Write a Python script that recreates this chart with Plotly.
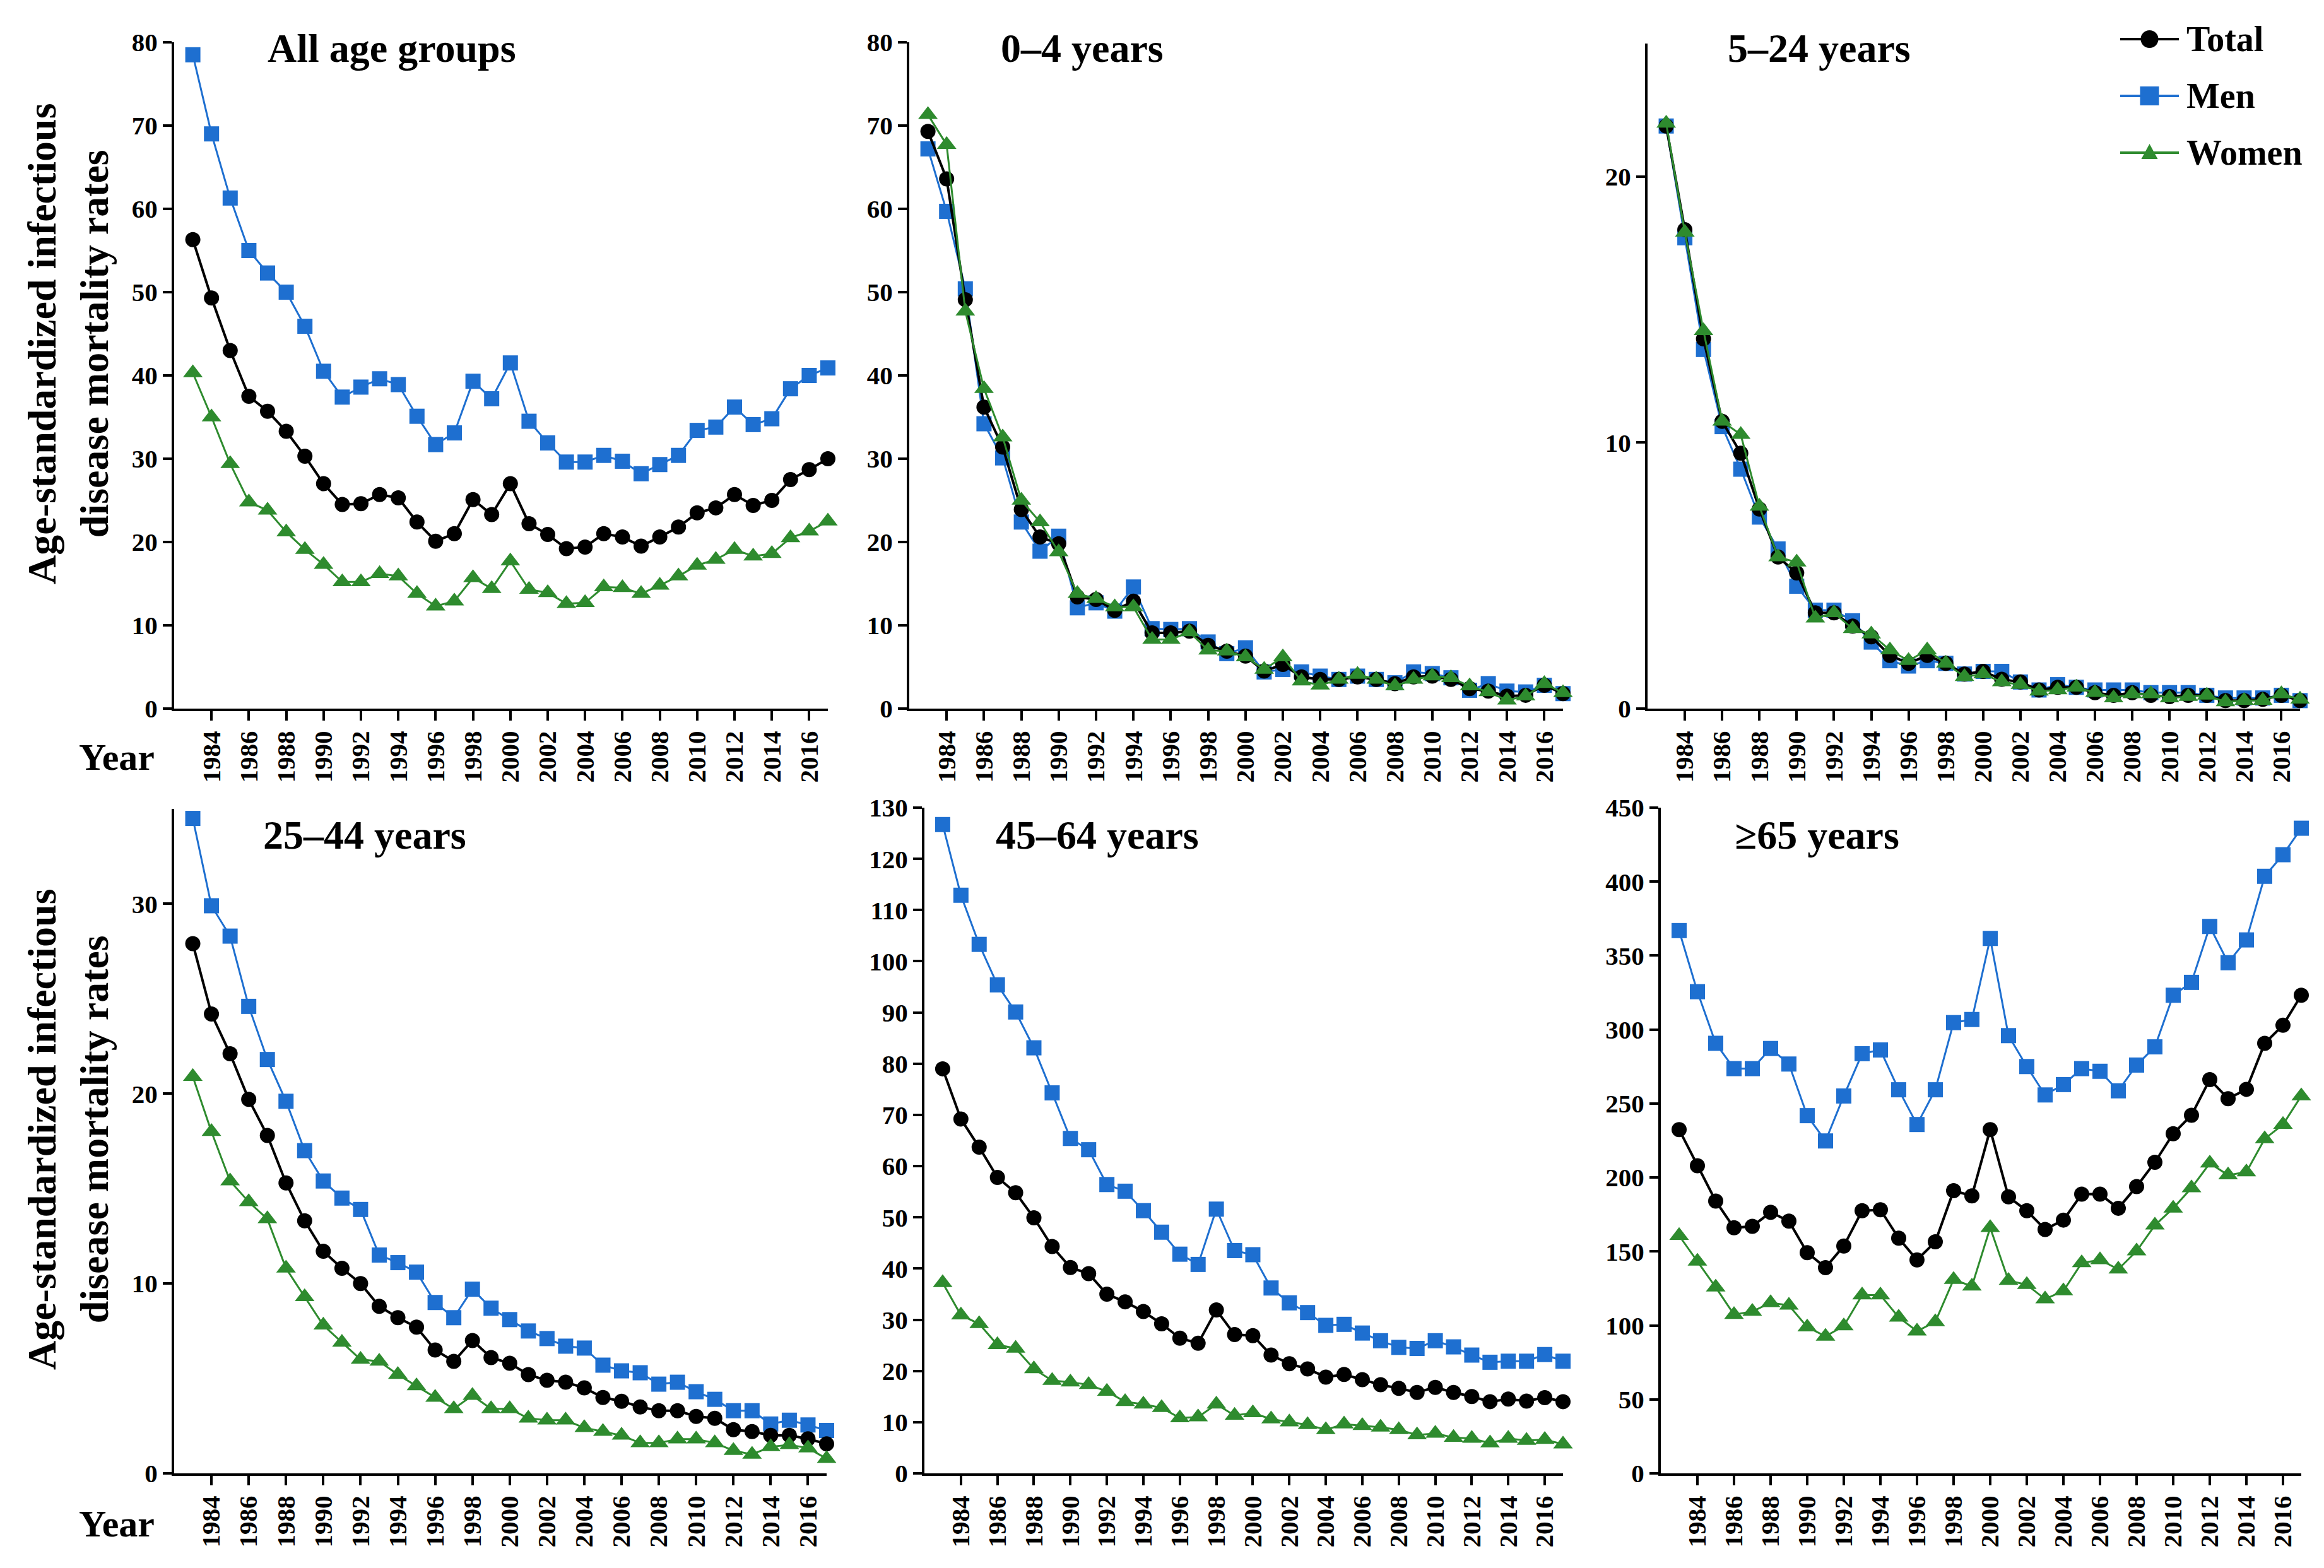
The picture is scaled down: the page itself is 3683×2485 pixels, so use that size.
import plotly.graph_objects as go

W, H = 3683, 2485

years = [1983, 1984, 1985, 1986, 1987, 1988, 1989, 1990, 1991, 1992, 1993, 1994,
         1995, 1996, 1997, 1998, 1999, 2000, 2001, 2002, 2003, 2004, 2005, 2006,
         2007, 2008, 2009, 2010, 2011, 2012, 2013, 2014, 2015, 2016, 2017]
tick_years = [1984, 1986, 1988, 1990, 1992, 1994, 1996, 1998, 2000, 2002, 2004,
              2006, 2008, 2010, 2012, 2014, 2016]

panel_titles = ["All age groups", "0–4 years", "5–24 years",
                "25–44 years", "45–64 years", "≥65 years"]
series_names = ["Total", "Men", "Women"]

# ---- All age groups
all_total = [56.3, 49.3, 43.0, 37.5, 35.7, 33.3, 30.3, 27.0, 24.5, 24.6, 25.7, 25.3, 22.4, 20.1, 21.0, 25.1, 23.3, 27.0,
             22.2, 20.9, 19.2, 19.4, 21.0, 20.6, 19.5, 20.6, 21.8, 23.5, 24.1, 25.7, 24.4, 25.0, 27.5, 28.7, 30.0]
all_men = [78.5, 69.0, 61.3, 55.0, 52.3, 50.0, 45.9, 40.5, 37.4, 38.6, 39.6, 38.9, 35.1, 31.7, 33.1, 39.3, 37.2, 41.5,
           34.5, 31.9, 29.6, 29.6, 30.4, 29.7, 28.2, 29.3, 30.4, 33.4, 33.8, 36.2, 34.1, 34.8, 38.4, 40.0, 40.9]
all_women = [40.3, 35.0, 29.4, 24.8, 23.8, 21.2, 19.1, 17.3, 15.2, 15.2, 16.2, 15.9, 13.8, 12.3, 12.9, 15.7, 14.4, 17.7,
             14.3, 13.9, 12.6, 12.7, 14.6, 14.5, 13.8, 14.8, 15.9, 17.2, 17.9, 19.1, 18.3, 18.6, 20.5, 21.3, 22.5]

# ---- 0-4 years
a04_total = [69.3, 63.6, 49.1, 36.2, 31.4, 23.9, 20.6, 19.8, 13.4, 13.1, 11.8, 12.9, 9.1, 9.1, 9.3, 7.6, 6.9, 6.3,
             4.5, 5.3, 3.8, 3.5, 3.5, 3.8, 3.5, 3.0, 3.8, 3.9, 3.5, 2.4, 2.1, 1.5, 1.6, 2.8, 1.8]
a04_men = [67.2, 59.7, 50.4, 34.2, 30.1, 22.4, 18.9, 20.7, 12.1, 12.7, 11.7, 14.6, 9.6, 9.5, 9.6, 8.0, 6.6, 7.3,
           4.4, 4.7, 4.4, 3.9, 3.5, 3.9, 3.5, 3.1, 4.4, 4.2, 3.7, 2.2, 3.0, 2.1, 2.0, 2.8, 1.8]
a04_women = [71.3, 67.7, 47.7, 38.4, 32.6, 25.0, 22.4, 18.8, 13.8, 13.2, 12.2, 12.2, 8.3, 8.3, 9.2, 7.0, 6.9, 6.2,
             4.7, 6.2, 3.3, 2.8, 3.5, 4.1, 3.5, 2.7, 3.5, 3.9, 3.7, 2.7, 2.0, 1.0, 1.5, 3.0, 1.9]

# ---- 5-24 years
a524_total = [21.9, 18.0, 13.9, 10.8, 9.6, 7.5, 5.7, 5.1, 3.6, 3.6, 3.1, 2.7, 2.0, 1.7, 2.0, 1.7, 1.3, 1.4,
              1.1, 1.0, 0.7, 0.8, 0.8, 0.6, 0.5, 0.6, 0.5, 0.45, 0.5, 0.5, 0.3, 0.3, 0.35, 0.5, 0.3]
a524_men = [21.9, 17.7, 13.5, 10.6, 9.0, 7.2, 6.0, 4.6, 3.7, 3.7, 3.3, 2.5, 1.8, 1.6, 1.8, 1.7, 1.3, 1.4,
            1.4, 1.0, 0.7, 0.9, 0.8, 0.7, 0.7, 0.7, 0.6, 0.6, 0.6, 0.5, 0.4, 0.4, 0.4, 0.5, 0.3]
a524_women = [22.0, 17.9, 14.2, 10.8, 10.3, 7.6, 5.7, 5.5, 3.4, 3.6, 3.0, 2.8, 2.2, 1.8, 2.2, 1.7, 1.2, 1.3,
              1.0, 0.9, 0.65, 0.7, 0.8, 0.6, 0.4, 0.55, 0.55, 0.4, 0.45, 0.5, 0.25, 0.3, 0.3, 0.55, 0.35]

# ---- 25-44 years
a2544_total = [27.9, 24.2, 22.1, 19.7, 17.8, 15.3, 13.3, 11.7, 10.8, 10.0, 8.8, 8.2, 7.7, 6.5, 5.9, 7.0, 6.1, 5.8,
               5.2, 4.9, 4.8, 4.5, 4.0, 3.8, 3.5, 3.3, 3.3, 3.0, 2.9, 2.3, 2.2, 2.0, 2.0, 1.82, 1.55]
a2544_men = [34.5, 29.9, 28.3, 24.6, 21.8, 19.6, 17.0, 15.4, 14.5, 13.9, 11.5, 11.1, 10.6, 9.0, 8.2, 9.7, 8.7, 8.1,
             7.5, 7.1, 6.7, 6.6, 5.7, 5.4, 5.3, 4.7, 4.8, 4.3, 3.9, 3.3, 3.3, 2.6, 2.8, 2.55, 2.26]
a2544_women = [20.9, 18.0, 15.4, 14.3, 13.4, 10.8, 9.3, 7.8, 6.9, 6.0, 5.9, 5.2, 4.6, 4.0, 3.4, 4.1, 3.4, 3.4,
               2.9, 2.8, 2.8, 2.4, 2.2, 2.0, 1.6, 1.6, 1.8, 1.8, 1.6, 1.2, 1.0, 1.4, 1.5, 1.33, 0.77]

# ---- 45-64 years
a4564_total = [79.0, 69.2, 63.7, 57.8, 54.8, 49.9, 44.3, 40.2, 39.0, 35.0, 33.5, 31.6, 29.2, 26.4, 25.4, 31.9, 27.1, 26.9,
               23.1, 21.4, 20.4, 18.8, 19.3, 18.3, 17.3, 16.6, 15.8, 16.8, 15.8, 15.0, 14.0, 14.5, 14.1, 14.8, 14.0]
a4564_men = [126.7, 112.9, 103.3, 95.4, 90.1, 83.1, 74.3, 65.4, 63.2, 56.4, 55.1, 51.3, 47.1, 42.8, 40.8, 51.6, 43.5, 42.7,
             36.2, 33.3, 31.4, 28.9, 29.1, 27.4, 25.9, 24.6, 24.4, 25.9, 24.7, 23.1, 21.7, 21.9, 21.9, 23.2, 21.9]
a4564_women = [37.2, 30.9, 29.2, 25.1, 24.4, 20.4, 18.1, 17.8, 17.3, 16.0, 14.0, 13.5, 12.8, 10.8, 11.0, 13.5, 11.3, 11.8,
               10.6, 10.0, 9.5, 8.5, 9.6, 9.3, 9.0, 8.5, 7.5, 7.8, 7.0, 6.8, 5.9, 6.8, 6.4, 6.6, 5.7]

# ---- >=65 years
a65_total = [232.4, 207.9, 184.1, 166.0, 167.0, 176.5, 170.5, 149.2, 139.1, 153.7, 177.5, 178.2, 159.0, 144.3, 156.5,
             191.1, 187.6, 232.4, 186.9, 177.5, 164.9, 171.2, 188.7, 188.7, 179.2, 193.9, 210.3, 229.6, 242.1, 266.2,
             253.3, 259.6, 290.7, 302.9, 323.2]
a65_men = [366.9, 325.6, 290.7, 273.6, 273.6, 287.2, 276.7, 241.8, 224.7, 255.1, 283.7, 286.2, 259.3, 235.8, 259.3,
           304.7, 306.8, 361.6, 295.9, 275.0, 255.8, 262.8, 273.6, 271.8, 258.6, 276.0, 288.3, 323.2, 331.9, 369.7,
           345.2, 360.6, 403.6, 418.2, 436.1]
a65_women = [160.7, 143.3, 125.8, 107.3, 109.4, 115.3, 113.6, 98.9, 92.6, 99.6, 120.5, 120.5, 105.5, 96.1, 102.4,
             131.0, 126.5, 166.0, 130.3, 127.5, 117.8, 123.3, 142.2, 144.3, 138.0, 150.2, 167.7, 179.2, 192.9, 209.6,
             201.6, 203.7, 226.1, 235.8, 255.1]

y_max = [80, 80, 25, 35, 130, 450]
y_dtick = [10, 10, 10, 10, 10, 50]

data_sets = [
    (all_total, all_men, all_women),
    (a04_total, a04_men, a04_women),
    (a524_total, a524_men, a524_women),
    (a2544_total, a2544_men, a2544_women),
    (a4564_total, a4564_men, a4564_women),
    (a65_total, a65_men, a65_women),
]

# ---- layout geometry (pixels)
x_dom_px = [(276, 1312), (1441, 2477), (2611, 3645), (276, 1310), (1465, 2477), (2632, 3647)]
y_dom_px = [(67, 1123), (67, 1123), (69, 1123), (1282, 2335), (1280, 2335), (1280, 2335)]
title_pos_px = [(422, 77), (1584, 77), (2736, 77), (415, 1323), (1576, 1323), (2747, 1323)]

BLACK = "#000000"
BLUE = "#1E6FD0"
GREEN = "#2E8B2E"
FONT = "Liberation Serif"


def px_x(x):
    return x / W


def px_y(y):
    return 1 - y / H


fig = go.Figure()
layout = dict(
    width=W, height=H,
    margin=dict(l=0, r=0, t=0, b=0, pad=0, autoexpand=False),
    paper_bgcolor="white", plot_bgcolor="white",
    font=dict(family=FONT, size=41, color="black", weight="bold"),
    showlegend=False,
)

annotations = []
for i in range(6):
    n = i + 1
    xa = "x" if n == 1 else f"x{n}"
    ya = "y" if n == 1 else f"y{n}"
    total, men, women = data_sets[i]
    specs = [
        ("Men", men, BLUE, "square", 24, 3),
        ("Total", total, BLACK, "circle", 24, 4),
        ("Women", women, GREEN, "triangle-up", 27, 3),
    ]
    for name, vals, col, sym, sz, lw in specs:
        fig.add_trace(go.Scatter(
            x=years, y=vals, name=name, mode="lines+markers",
            line=dict(color=col, width=lw),
            marker=dict(symbol=sym, size=sz, color=col, line=dict(width=0)),
            xaxis=xa, yaxis=ya, cliponaxis=False, showlegend=False,
        ))
    xk = "xaxis" if n == 1 else f"xaxis{n}"
    yk = "yaxis" if n == 1 else f"yaxis{n}"
    x0, x1 = x_dom_px[i]
    yt, yb = y_dom_px[i]
    layout[xk] = dict(
        domain=[px_x(x0), px_x(x1)], anchor=ya, range=[1982, 2017],
        tickmode="array", tickvals=tick_years, ticktext=[str(t) for t in tick_years],
        tickangle=-90, ticks="outside", ticklen=15, tickwidth=4, tickcolor="black",
        showline=True, linecolor="black", linewidth=4, showgrid=False, zeroline=False,
        tickfont=dict(family=FONT, size=41, color="black", weight="bold"),
        fixedrange=True, automargin=False,
    )
    layout[yk] = dict(
        domain=[px_y(yb), px_y(yt)], anchor=xa, range=[0, y_max[i]], dtick=y_dtick[i],
        tick0=0, ticks="outside", ticklen=14, tickwidth=4, tickcolor="black",
        showline=True, linecolor="black", linewidth=4, showgrid=False, zeroline=False,
        tickfont=dict(family=FONT, size=41, color="black", weight="bold"),
        fixedrange=True, automargin=False,
    )
    tx, ty = title_pos_px[i]
    annotations.append(dict(
        text=panel_titles[i], xref="paper", yref="paper", x=px_x(tx), y=px_y(ty),
        xanchor="left", yanchor="middle", showarrow=False,
        font=dict(family=FONT, size=64, color="black", weight="bold"),
    ))

# y-axis titles
for cy in (545, 1790):
    annotations.append(dict(
        text="Age-standardized infectious<br>disease mortality rates",
        xref="paper", yref="paper", x=px_x(108), y=px_y(cy),
        xanchor="center", yanchor="middle", textangle=-90, showarrow=False,
        font=dict(family=FONT, size=64, color="black", weight="bold"),
    ))
# "Year" labels
for cy in (1200, 2415):
    annotations.append(dict(
        text="Year", xref="paper", yref="paper", x=px_x(185), y=px_y(cy),
        xanchor="center", yanchor="middle", showarrow=False,
        font=dict(family=FONT, size=60, color="black", weight="bold"),
    ))

# legend (drawn in panel-3 corner)
leg_x0, leg_x1, leg_tx = 3360, 3453, 3463
leg_items = [("Total", BLACK, 62), ("Men", BLUE, 152), ("Women", GREEN, 242)]
shapes = []
for name, col, cy in leg_items:
    shapes.append(dict(type="line", xref="paper", yref="paper",
                       x0=px_x(leg_x0), x1=px_x(leg_x1), y0=px_y(cy), y1=px_y(cy),
                       line=dict(color=col, width=4)))
    mx = (leg_x0 + leg_x1) / 2
    if name == "Total":
        r = 14
        shapes.append(dict(type="circle", xref="paper", yref="paper",
                           x0=px_x(mx - r), x1=px_x(mx + r), y0=px_y(cy + r), y1=px_y(cy - r),
                           fillcolor=col, line=dict(width=0)))
    elif name == "Men":
        r = 15
        shapes.append(dict(type="rect", xref="paper", yref="paper",
                           x0=px_x(mx - r), x1=px_x(mx + r), y0=px_y(cy + r), y1=px_y(cy - r),
                           fillcolor=col, line=dict(width=0)))
    else:
        path = (f"M {px_x(mx - 13)} {px_y(cy + 10)} L {px_x(mx + 13)} {px_y(cy + 10)} "
                f"L {px_x(mx)} {px_y(cy - 14)} Z")
        shapes.append(dict(type="path", xref="paper", yref="paper", path=path,
                           fillcolor=col, line=dict(width=0)))
    annotations.append(dict(
        text=name, xref="paper", yref="paper", x=px_x(leg_tx), y=px_y(cy),
        xanchor="left", yanchor="middle", showarrow=False,
        font=dict(family=FONT, size=56, color="black", weight="bold"),
    ))

layout["annotations"] = annotations
layout["shapes"] = shapes
fig.update_layout(**layout)
fig.write_html(
    "out.html",
    config={"displayModeBar": False},
    post_script="document.body.style.margin='0';document.body.style.padding='0';"
                "document.body.style.overflow='hidden';",
)
